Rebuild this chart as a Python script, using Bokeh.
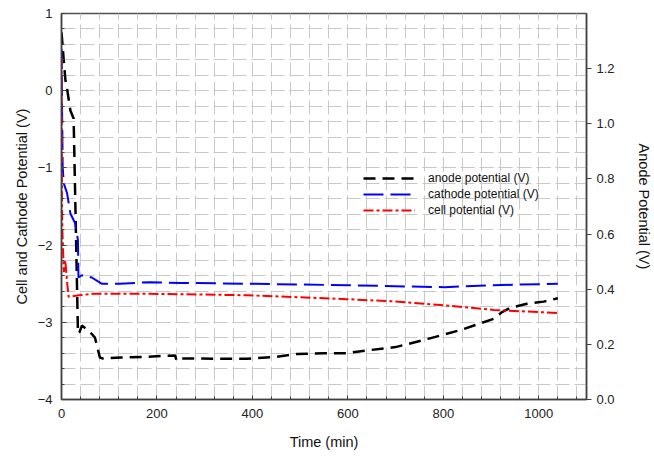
from bokeh.plotting import figure
from bokeh.models import (Range1d, LinearAxis, SingleIntervalTicker, PrintfTickFormatter,
                          Legend, LegendItem)
from bokeh.embed import file_html
from bokeh.resources import INLINE

# ---- data ----
anode_t = [0, 4.7, 8.3, 11.7, 18.6, 25.4, 34.5, 38, 42.7, 57, 70, 80.5, 87, 125, 180, 238, 241, 252,
           320, 390, 450, 493, 550, 597, 650, 700, 768, 838, 906, 923, 941, 975, 1010, 1040]
anode_v = [1.332, 1.23, 1.157, 1.127, 1.048, 1.019, 0.239, 0.245, 0.268, 0.25, 0.225, 0.152, 0.149,
           0.152, 0.155, 0.160, 0.141, 0.149, 0.148, 0.148, 0.155, 0.165, 0.168, 0.168, 0.18, 0.19,
           0.22, 0.253, 0.293, 0.317, 0.333, 0.347, 0.355, 0.367]

cathode_t = [0, 0.5, 1.4, 2.5, 4.7, 11.8, 18.6, 28.9, 34.5, 35.5, 42.7, 63.4, 84, 122, 184, 250,
             390, 600, 803, 906, 1040]
cathode_v = [0.54, 0.1, -0.34, -0.99, -1.2, -1.33, -1.59, -1.72, -1.94, -2.42, -2.39, -2.42, -2.50,
             -2.50, -2.48, -2.49, -2.50, -2.52, -2.545, -2.52, -2.50]

cell_t = [0, 0.5, 1, 2, 5, 8, 12, 15, 36, 70, 184, 390, 597, 700, 803, 906, 1040]
cell_v = [0.42, -0.5, -1.4, -1.85, -2.35, -2.2, -2.5, -2.67, -2.65, -2.63, -2.63, -2.65, -2.70,
          -2.73, -2.78, -2.84, -2.88]

x_ticks_interval = 200
left_label = "Cell and Cathode Potential (V)"
right_label = "Anode Potential (V)"
x_label = "Time (min)"
series_labels = ["anode potential (V)", "cathode potential (V)", "cell potential (V)"]

FONT = "Liberation Sans"

p = figure(width=654, height=460, output_backend="svg", toolbar_location=None,
           x_range=Range1d(0, 1100), y_range=Range1d(-4, 1),
           min_border_left=61, min_border_right=60, min_border_top=13, min_border_bottom=61)
p.extra_y_ranges = {"anode": Range1d(0, 1.4)}

p.outline_line_color = "#505050"
p.outline_line_width = 1.5
p.background_fill_color = "white"
p.border_fill_color = "white"

# axes
xa = p.xaxis[0]
xa.ticker = SingleIntervalTicker(interval=x_ticks_interval, num_minor_ticks=5)
ya = p.yaxis[0]
ya.ticker = SingleIntervalTicker(interval=1, num_minor_ticks=5)

ra = LinearAxis(y_range_name="anode", ticker=SingleIntervalTicker(interval=0.2, num_minor_ticks=0),
                formatter=PrintfTickFormatter(format="%.1f"))
p.add_layout(ra, "right")

for ax in (xa, ya, ra):
    ax.axis_line_color = "#404040"
    ax.axis_line_width = 1.5
    ax.major_tick_line_color = "#404040"
    ax.minor_tick_line_color = "#404040"
    ax.major_label_text_font = FONT
    ax.major_label_text_font_size = "13px"
    ax.major_label_text_color = "#222222"
    ax.axis_label_text_font = FONT
    ax.axis_label_text_font_size = "14.5px"
    ax.axis_label_text_font_style = "normal"
    ax.axis_label_text_color = "#111111"

xa.major_tick_in = 4
xa.major_tick_out = 0
xa.minor_tick_in = 3
xa.minor_tick_out = 0
xa.major_label_standoff = 9
xa.axis_label = x_label
xa.axis_label_standoff = 13

ya.major_tick_in = 5
ya.major_tick_out = 0
ya.minor_tick_in = 3
ya.minor_tick_out = 0
ya.major_label_standoff = 9
ya.axis_label = left_label
ya.axis_label_standoff = 5

ra.major_tick_in = 0
ra.major_tick_out = 5
ra.minor_tick_line_color = None
ra.major_label_standoff = 5
ra.axis_label = right_label
ra.axis_label_standoff = 18

# grid
for g in (p.xgrid[0], p.ygrid[0]):
    g.grid_line_color = "#c8c8c8"
    g.grid_line_width = 1
    g.grid_line_dash = "14 5"
    g.minor_grid_line_color = "#c8c8c8"
    g.minor_grid_line_width = 1
    g.minor_grid_line_dash = "14 5"

# lines
r_an = p.line(anode_t, anode_v, y_range_name="anode", line_color="black", line_width=2.5,
              line_dash="12 7")
r_ca = p.line(cathode_t, cathode_v, line_color="#0000ff", line_width=2, line_dash="20 7")
r_ce = p.line(cell_t, cell_v, line_color="#ff0000", line_width=2, line_dash="10 3 3 3")

legend = Legend(items=[LegendItem(label=series_labels[0], renderers=[r_an]),
                       LegendItem(label=series_labels[1], renderers=[r_ca]),
                       LegendItem(label=series_labels[2], renderers=[r_ce])],
                location=(302, 181), orientation="vertical")
legend.background_fill_alpha = 0
legend.border_line_color = None
legend.padding = 0
legend.margin = 0
legend.spacing = 0
legend.glyph_width = 52
legend.glyph_height = 16
legend.label_height = 16
legend.label_standoff = 13
legend.label_text_font = FONT
legend.label_text_font_size = "12px"
legend.label_text_color = "#111111"
p.add_layout(legend, "center")

open("out.html", "w").write(file_html(p, INLINE))
